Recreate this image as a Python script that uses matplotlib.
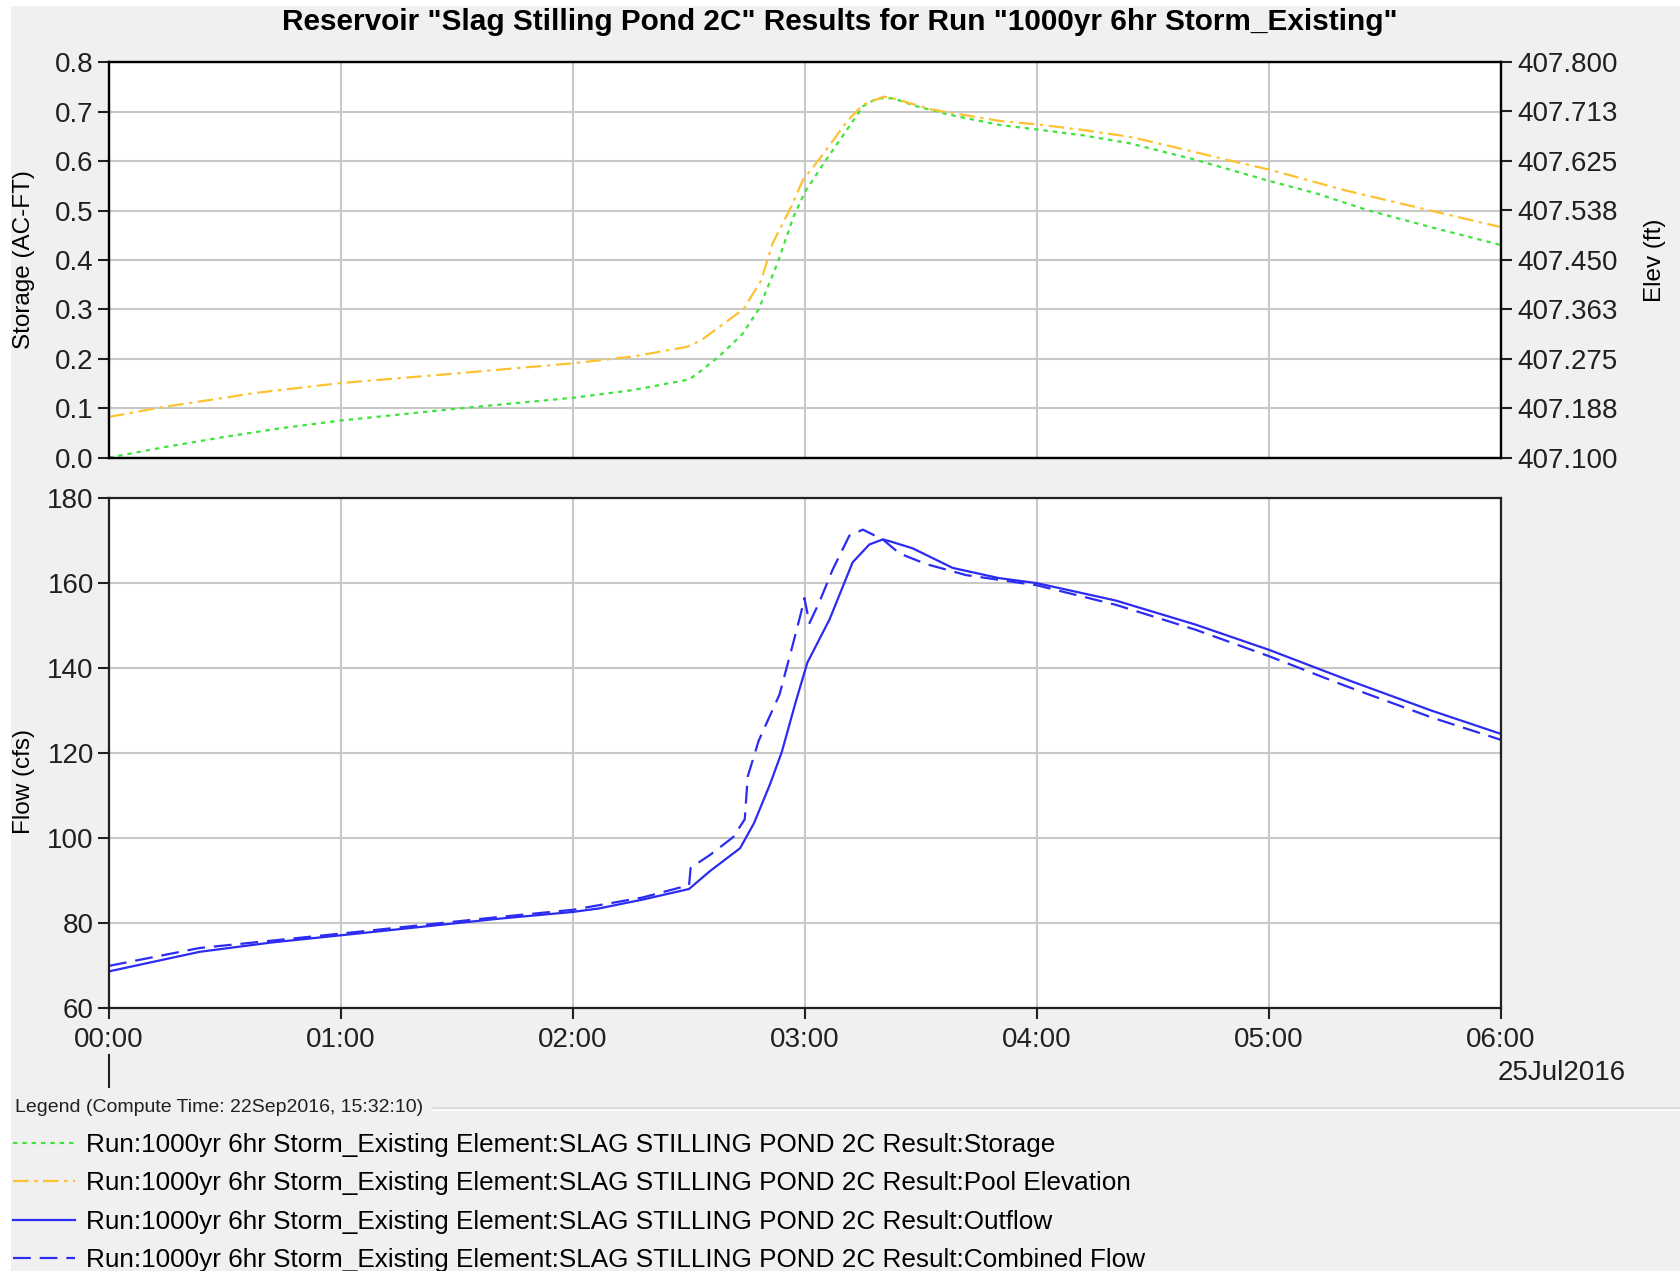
import matplotlib
matplotlib.use("Agg")
import matplotlib.pyplot as plt
from matplotlib.lines import Line2D
from matplotlib.patches import Rectangle

plt.rcParams['font.family'] = ['Liberation Sans', 'DejaVu Sans']

# ---------------- data (hours since 25Jul2016 00:00) ----------------
stor_t = [0.0, 0.25, 0.5, 0.75, 1.0, 1.25, 1.5, 1.75, 2.0, 2.25, 2.5, 2.55, 2.63,
          2.73, 2.80, 2.88, 2.95, 3.00, 3.09, 3.18, 3.25, 3.31, 3.38, 3.48, 3.62,
          3.84, 4.0, 4.2, 4.4, 4.68, 5.0, 5.2, 5.43, 5.7, 6.0]
storage = [0.000, 0.022, 0.042, 0.060, 0.075, 0.087, 0.099, 0.110, 0.121, 0.136,
           0.158, 0.175, 0.205, 0.250, 0.300, 0.392, 0.487, 0.538, 0.602, 0.663,
           0.711, 0.727, 0.727, 0.711, 0.694, 0.673, 0.664, 0.652, 0.636, 0.603,
           0.560, 0.535, 0.500, 0.466, 0.430]

elev_t = [0.0, 0.24, 0.5, 0.62, 1.0, 1.44, 2.0, 2.26, 2.49, 2.55, 2.735, 2.81, 2.86,
          2.94, 2.99, 3.07, 3.18, 3.25, 3.34, 3.38, 3.55, 3.84, 4.0, 4.2, 4.4, 4.6,
          4.81, 5.0, 5.33, 5.7, 6.0]
pool_elev = [407.172, 407.190, 407.206, 407.214, 407.232, 407.247, 407.267, 407.279,
             407.296, 407.307, 407.363, 407.413, 407.479, 407.544, 407.591, 407.633,
             407.695, 407.725, 407.739, 407.736, 407.716, 407.696, 407.690, 407.680,
             407.668, 407.649, 407.628, 407.610, 407.573, 407.537, 407.508]

out_t = [0.0, 0.39, 0.7, 1.0, 1.68, 2.0, 2.11, 2.30, 2.50, 2.59, 2.72, 2.78, 2.85,
         2.90, 2.96, 3.01, 3.105, 3.205, 3.277, 3.335, 3.364, 3.464, 3.636, 3.835,
         4.0, 4.34, 4.68, 5.0, 5.33, 5.70, 6.0]
outflow = [68.6, 73.2, 75.4, 77.1, 81.0, 82.6, 83.4, 85.5, 88.0, 92.2, 97.6, 103.5,
           112.8, 120.3, 132.1, 141.3, 151.4, 164.9, 169.1, 170.3, 169.9, 168.2,
           163.6, 161.2, 160.0, 155.9, 150.3, 144.3, 137.4, 130.0, 124.5]

comb_t = [0.0, 0.39, 1.0, 1.68, 2.0, 2.30, 2.50, 2.507, 2.59, 2.69, 2.74, 2.753, 2.80,
          2.89, 2.947, 2.983, 2.997, 3.019, 3.062, 3.119, 3.191, 3.249, 3.335, 3.407,
          3.522, 3.694, 4.0, 4.34, 4.68, 5.0, 5.33, 5.70, 6.0]
combined = [69.9, 74.1, 77.5, 81.4, 83.1, 86.0, 88.9, 93.0, 96.0, 100.2, 104.4, 114.5,
            122.9, 133.8, 145.5, 153.1, 156.5, 150.6, 155.6, 163.2, 171.2, 172.6,
            170.3, 167.0, 164.5, 161.9, 159.5, 154.9, 149.1, 142.8, 135.8, 128.4, 123.1]

hour_ticks = [0, 1, 2, 3, 4, 5, 6]
hour_labels = ['00:00', '01:00', '02:00', '03:00', '04:00', '05:00', '06:00']
stor_ticks = [0.0, 0.1, 0.2, 0.3, 0.4, 0.5, 0.6, 0.7, 0.8]
elev_ticks = [407.100, 407.188, 407.275, 407.363, 407.450, 407.538, 407.625, 407.713, 407.800]
flow_ticks = [60, 80, 100, 120, 140, 160, 180]

run = "Run:1000yr 6hr Storm_Existing Element:SLAG STILLING POND 2C Result:"
labels = [run + "Storage", run + "Pool Elevation", run + "Outflow", run + "Combined Flow"]

# ---------------- styles ----------------
bg = '#f0f0f0'
green = '#3ee43e'
orange = '#fcc232'
blue = '#2b2bf2'
gridc = '#c8c8c8'
tick_fs = 20
lab_fs = 17.5

fig = plt.figure(figsize=(16.8, 12.71), dpi=100, facecolor='white')
fig.patches.append(Rectangle((0.0065, 0), 1, 0.995, transform=fig.transFigure,
                             facecolor=bg, edgecolor='none', zorder=-10))

L, R = 0.0649, 0.8935
ax1 = fig.add_axes([L, 0.640, R - L, 0.311])
ax2 = fig.add_axes([L, 0.207, R - L, 0.401])
ax1r = ax1.twinx()


def style(ax):
    ax.set_facecolor('white')
    ax.set_xlim(0, 6)
    ax.set_xticks(hour_ticks)
    ax.grid(True, color=gridc, linewidth=1.5)
    ax.set_axisbelow(True)
    for s in ax.spines.values():
        s.set_linewidth(1.6)
        s.set_color('#202020')
    ax.tick_params(direction='out', length=8, width=1.5, labelsize=tick_fs,
                   colors='#202020', pad=3)


style(ax1)
style(ax2)

# top: storage + pool elevation
l_st, = ax1.plot(stor_t, storage, color=green, lw=1.6, dashes=(2, 2.2))
ax1.set_ylim(0, 0.8)
ax1.set_yticks(stor_ticks)
ax1.set_yticklabels([f'{v:.1f}' for v in stor_ticks])
ax1.tick_params(axis='x', labelbottom=False, length=0)
ax1.set_ylabel('Storage (AC-FT)', fontsize=lab_fs)
ax1.yaxis.set_label_coords(-0.053, 0.5)

l_el, = ax1r.plot(elev_t, pool_elev, color=orange, lw=1.6, dashes=(7, 2.5, 1.5, 2.5))
ax1r.set_ylim(407.1, 407.8)
ax1r.set_yticks(elev_ticks)
ax1r.set_yticklabels([f'{v:.3f}' for v in elev_ticks])
ax1r.tick_params(direction='out', length=8, width=1.5, labelsize=tick_fs, colors='#202020')
for s in ax1r.spines.values():
    s.set_linewidth(1.6)
ax1r.set_ylabel('Elev (ft)', fontsize=lab_fs)
ax1r.yaxis.set_label_coords(1.103, 0.5)

# bottom: flows
l_out, = ax2.plot(out_t, outflow, color=blue, lw=1.6)
l_cmb, = ax2.plot(comb_t, combined, color=blue, lw=1.6, dashes=(8, 4))
ax2.set_ylim(60, 180)
ax2.set_yticks(flow_ticks)
ax2.set_xticklabels(hour_labels)
ax2.tick_params(axis='x', pad=6)
ax2.set_ylabel('Flow (cfs)', fontsize=lab_fs)
ax2.yaxis.set_label_coords(-0.053, 0.445)

# day marker below the time axis
ax2.axvline(0, ymin=-0.155, ymax=-0.092, color='#202020', lw=1.5, clip_on=False)
ax2.text(5.985, -0.128, '25Jul2016', transform=ax2.get_xaxis_transform(),
         fontsize=tick_fs, color='#202020', ha='left', va='center')

fig.text(0.5, 0.983, 'Reservoir "Slag Stilling Pond 2C" Results for Run "1000yr 6hr Storm_Existing"',
         fontsize=21.4, fontweight='bold', ha='center', va='center')

# legend block
fig.text(0.009, 0.1283, 'Legend (Compute Time: 22Sep2016, 15:32:10)', fontsize=14,
         ha='left', va='center', color='#202020')
fig.add_artist(Line2D([0.258, 1.0], [0.1283, 0.1283], transform=fig.transFigure,
                      color='#d8d8d8', lw=1.2))
fig.add_artist(Line2D([0.258, 1.0], [0.1268, 0.1268], transform=fig.transFigure,
                      color='white', lw=1.2))
leg = fig.legend([l_st, l_el, l_out, l_cmb], labels, loc='upper left',
                 bbox_to_anchor=(0.008, 0.1085), frameon=False, fontsize=18.8,
                 handlelength=2.35, handletextpad=0.42, labelspacing=0.55,
                 borderaxespad=0, borderpad=0)

fig.savefig('out.png', dpi=100, facecolor=fig.get_facecolor())
